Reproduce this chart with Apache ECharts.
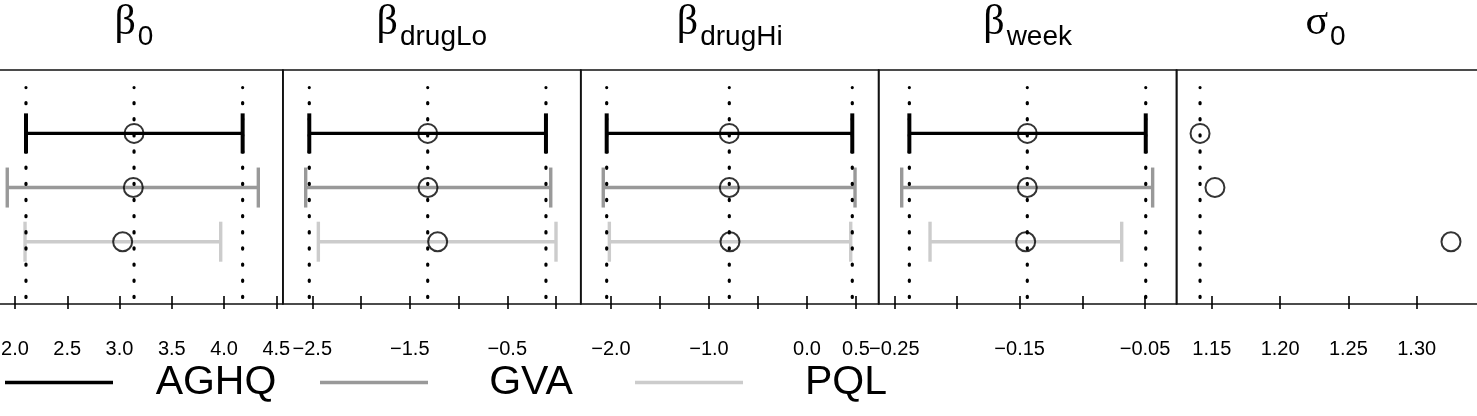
<!DOCTYPE html>
<html><head><meta charset="utf-8">
<script src="https://cdn.jsdelivr.net/npm/echarts@6/dist/echarts.min.js"></script>
<style>html,body{margin:0;padding:0;background:#fff;overflow:hidden;width:1477px;height:416px}#c{width:1500px;height:416px;margin-left:-15px}</style>
</head><body><div id="c"></div>
<script>
// ---------- data ----------
const methods = ['AGHQ', 'GVA', 'PQL'];
const methodColors = ['#000000', '#999999', '#cccccc'];
const panelSymbols = ['β', 'β', 'β', 'β', 'σ'];
const panelSubscripts = ['0', 'drugLo', 'drugHi', 'week', '0'];
const rowY = [3, 2, 1]; // AGHQ top, GVA middle, PQL bottom

const aghqEst = [3.139, -1.316, -0.793, -0.1439, 1.1414];
const aghqLo  = [2.105, -2.531, -2.044, -0.2380, null];
const aghqHi  = [4.178, -0.103,  0.462, -0.0494, null];
const gvaEst  = [3.132, -1.313, -0.793, -0.1439, 1.1523];
const gvaLo   = [1.926, -2.568, -2.079, -0.2441, null];
const gvaHi   = [4.328, -0.054,  0.490, -0.0439, null];
const pqlEst  = [3.030, -1.214, -0.786, -0.1452, 1.3251];
const pqlLo   = [2.096, -2.438, -2.017, -0.2215, null];
const pqlHi   = [3.968,  0.000,  0.446, -0.0686, null];

const tickValues = [
  [2.0, 2.5, 3.0, 3.5, 4.0, 4.5],
  [-2.5, -2.0, -1.5, -1.0, -0.5, 0.0],
  [-2.0, -1.5, -1.0, -0.5, 0.0, 0.5],
  [-0.25, -0.20, -0.15, -0.10, -0.05],
  [1.15, 1.20, 1.25, 1.30]
];
const tickLabels = [
  [2.0, 2.5, 3.0, 3.5, 4.0, 4.5],
  [-2.5, -1.5, -0.5],
  [-2.0, -1.0, 0.0, 0.5],
  [-0.25, -0.15, -0.05],
  [1.15, 1.20, 1.25, 1.30]
];
const labelDigits = [1, 1, 1, 2, 2];
const axisRanges = [[1.7130, 4.5631], [-2.8016, 0.2544], [-2.3082, 0.7316], [-0.26245, -0.02479], [1.12423, 1.34634]];

// ---------- layout (chart coords; page x = chart x - 15) ----------
const PANEL_LEFT0 = 0, PANEL_W = 297.9, GRID_TOP = 70, GRID_H = 234;
const LAST_PANEL_W = 303.4;
const Y_MIN = -0.15, Y_MAX = 4.17;
const DOT_Y0 = -0.03, DOT_Y1 = 3.847;
const CAP_HALF = 20;
const LEGEND_LEFT = 20, LEGEND_STEP = 315, LEGEND_TEXT_CENTER = 211;

const est = [aghqEst, gvaEst, pqlEst];
const lo = [aghqLo, gvaLo, pqlLo];
const hi = [aghqHi, gvaHi, pqlHi];

function fmt(v, d) {
  const s = Math.abs(v).toFixed(d);
  return (v < 0 ? '\u2212' : '') + s;
}

function barRenderer(color, lw, capW) {
  return function (params, api) {
    const y = api.value(2);
    const a = api.coord([api.value(0), y]);
    const b = api.coord([api.value(1), y]);
    return {
      type: 'group', children: [
        { type: 'line', shape: { x1: a[0], y1: a[1], x2: b[0], y2: b[1] }, style: { stroke: color, lineWidth: lw } },
        { type: 'line', shape: { x1: a[0], y1: a[1] - CAP_HALF, x2: a[0], y2: a[1] + CAP_HALF }, style: { stroke: color, lineWidth: capW } },
        { type: 'line', shape: { x1: b[0], y1: b[1] - CAP_HALF, x2: b[0], y2: b[1] + CAP_HALF }, style: { stroke: color, lineWidth: capW } }
      ]
    };
  };
}
function dotRenderer(params, api) {
  const v = api.value(0);
  const a = api.coord([v, DOT_Y0]);
  const b = api.coord([v, DOT_Y1]);
  return {
    type: 'line', shape: { x1: a[0], y1: a[1], x2: b[0], y2: b[1] },
    style: { stroke: '#000', lineWidth: 3.2, lineDash: [1.2, 14.95], lineCap: 'round' }
  };
}

const grids = [], xAxes = [], yAxes = [], series = [];
for (let p = 0; p < 5; p++) {
  grids.push({ left: PANEL_LEFT0 + p * PANEL_W, width: p === 4 ? LAST_PANEL_W : PANEL_W, top: GRID_TOP, height: GRID_H,
    show: true, borderColor: '#111', borderWidth: 1.7, backgroundColor: 'transparent' });
  const d = labelDigits[p];
  xAxes.push({
    type: 'value', gridIndex: p, min: axisRanges[p][0], max: axisRanges[p][1],
    axisLine: { show: false }, splitLine: { show: false },
    axisTick: { show: true, length: 13, customValues: tickValues[p], lineStyle: { color: '#000', width: 1.6 } },
    axisLabel: { show: true, customValues: tickLabels[p], margin: 35, fontSize: 20,
      fontFamily: 'Liberation Sans', color: '#000', formatter: v => fmt(v, d) }
  });
  yAxes.push({ type: 'value', gridIndex: p, min: Y_MIN, max: Y_MAX, show: false });

  for (let m = 0; m < 3; m++) {
    if (lo[m][p] !== null) {
      series.push({
        type: 'custom', name: methods[m], xAxisIndex: p, yAxisIndex: p, z: 2, silent: true,
        renderItem: barRenderer(methodColors[m], 3.4, m === 0 ? 4 : 3.4),
        data: [[lo[m][p], hi[m][p], rowY[m]]]
      });
    }
  }
  const dv = [aghqLo[p], aghqEst[p], aghqHi[p]].filter(v => v !== null).map(v => [v, 0]);
  series.push({ type: 'custom', xAxisIndex: p, yAxisIndex: p, z: 3, silent: true, renderItem: dotRenderer, data: dv });
  for (let m = 0; m < 3; m++) {
    series.push({
      type: 'scatter', name: methods[m], xAxisIndex: p, yAxisIndex: p, z: 4, silent: true,
      symbol: 'circle', symbolSize: 19,
      itemStyle: { color: 'rgba(0,0,0,0)', borderColor: '#000', borderWidth: 2 },
      data: [[est[m][p], rowY[m]]]
    });
  }
}

// titles
const ctx = document.createElement('canvas').getContext('2d');
function tw(t, font) { ctx.font = font; return ctx.measureText(t).width; }
const BFONT = '42px "Liberation Serif"', SFONT = '28px "Liberation Sans"', LFONT = '41px "Liberation Sans"';
const graphics = [];
for (let p = 0; p < 5; p++) {
  const cx = PANEL_LEFT0 + (p + 0.5) * PANEL_W;
  const w1 = tw(panelSymbols[p], BFONT) + 2, w2 = tw(panelSubscripts[p], SFONT);
  const x0 = cx - (w1 + w2) / 2;
  graphics.push({ type: 'text', x: x0, y: 23, style: { text: panelSymbols[p], font: BFONT, fill: '#000', align: 'left', verticalAlign: 'middle' } });
  graphics.push({ type: 'text', x: x0 + w1, y: 37, style: { text: panelSubscripts[p], font: SFONT, fill: '#000', align: 'left', verticalAlign: 'middle' } });
}

// one legend per method, equally spaced like R's horizontal legend
const legends = methods.map((m, i) => {
  const pad = Math.max(0, LEGEND_TEXT_CENTER - 113 - tw(m, LFONT) / 2);
  return {
    left: LEGEND_LEFT + i * LEGEND_STEP, top: 362, padding: 0, itemWidth: 108, itemHeight: 3.5,
    icon: 'rect', selectedMode: false,
    textStyle: { fontSize: 41, fontFamily: 'Liberation Sans', color: '#000', padding: [0, 0, 0, pad] },
    data: [{ name: m, itemStyle: { color: methodColors[i] } }]
  };
});

const chart = echarts.init(document.getElementById('c'), null, { renderer: 'canvas' });
chart.setOption({
  animation: false,
  backgroundColor: '#fff',
  grid: grids, xAxis: xAxes, yAxis: yAxes, series: series,
  graphic: graphics,
  legend: legends
});
</script></body></html>
